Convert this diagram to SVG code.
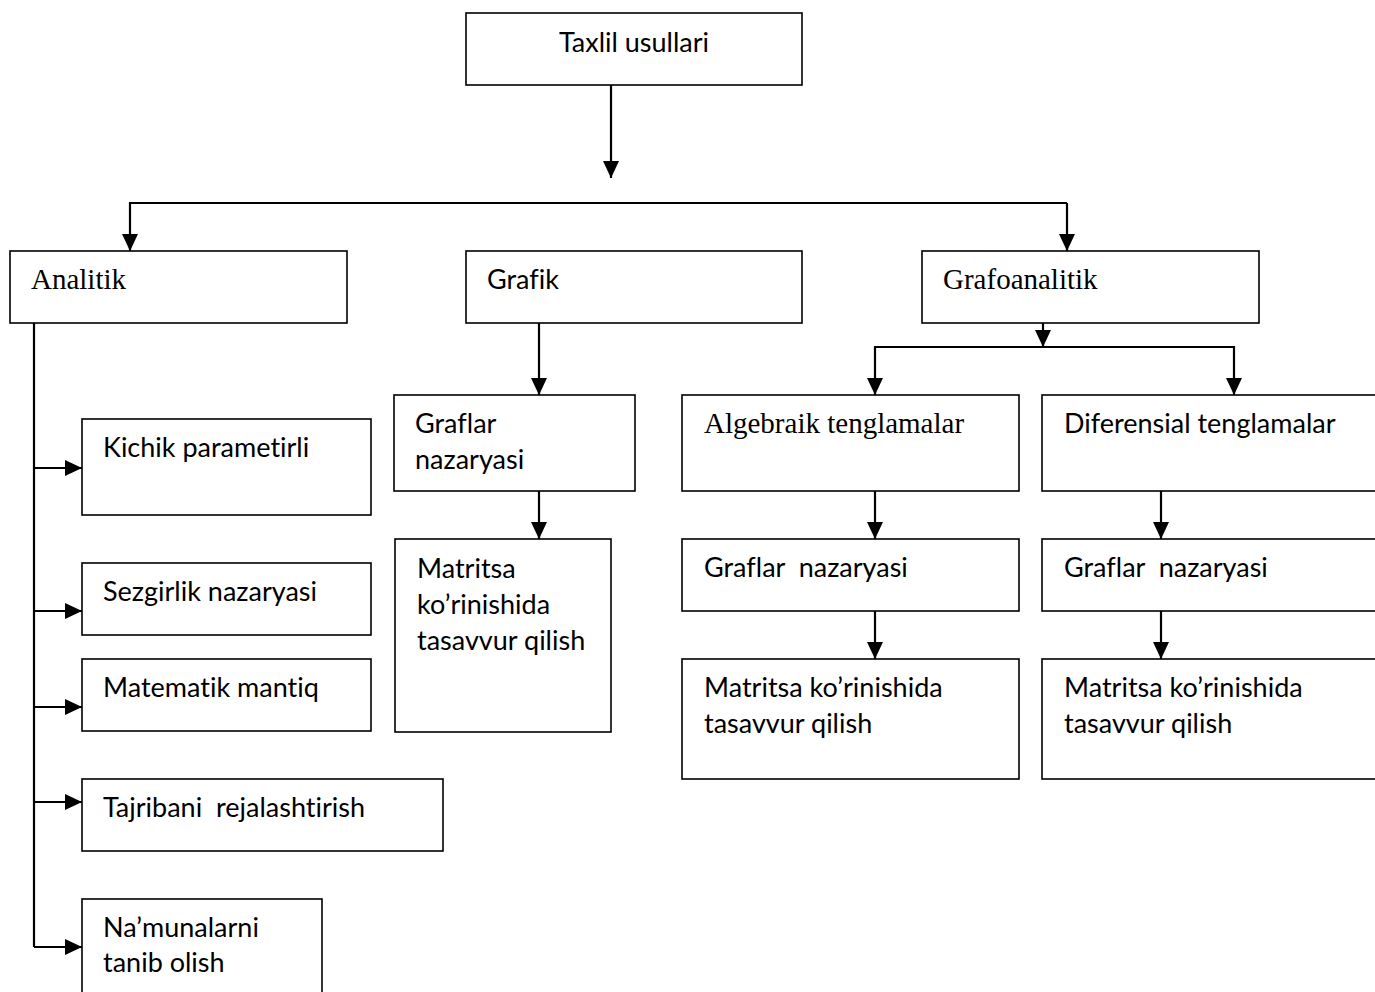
<svg xmlns="http://www.w3.org/2000/svg" width="1375" height="992" viewBox="0 0 1375 992">
  <style>
    .box { fill: #ffffff; stroke: #000000; stroke-width: 1.6; }
    .sans { font-family: Lato, "Liberation Sans", sans-serif; font-size: 27px; fill: #000000; white-space: pre; font-variant-ligatures: none; }
    .serif { font-family: "Liberation Serif", serif; font-size: 29px; fill: #000000; white-space: pre; }
    .wire { fill: none; stroke: #000000; stroke-width: 2.2; }
    .arrow { marker-end: url(#head); }
  </style>
  <defs>
    <marker id="head" viewBox="0 0 17 16" refX="17" refY="8" markerWidth="17" markerHeight="16" markerUnits="userSpaceOnUse" orient="auto">
      <path d="M0,0 L17,8 L0,16 z" fill="#000000"/>
    </marker>
  </defs>

  <rect width="1375" height="992" fill="#ffffff"/>

  <!-- connectors -->
  <g id="connectors">
    <path class="wire arrow" d="M611,82 V178"/>
    <path class="wire arrow" d="M1067,203 H130 V251"/>
    <path class="wire arrow" d="M1067,203 V251"/>
    <path class="wire arrow" d="M539,323 V395"/>
    <path class="wire arrow" d="M539,491 V539"/>
    <path class="wire arrow" d="M1043,323 V347"/>
    <path class="wire arrow" d="M1043,347 H875 V395"/>
    <path class="wire arrow" d="M1043,347 H1234 V395"/>
    <path class="wire arrow" d="M875,491 V539"/>
    <path class="wire arrow" d="M875,611 V659"/>
    <path class="wire arrow" d="M1161,491 V539"/>
    <path class="wire arrow" d="M1161,611 V659"/>
    <path class="wire" d="M34,323 V947"/>
    <path class="wire arrow" d="M34,468 H82"/>
    <path class="wire arrow" d="M34,611 H82"/>
    <path class="wire arrow" d="M34,707 H82"/>
    <path class="wire arrow" d="M34,802 H82"/>
    <path class="wire arrow" d="M34,947 H82"/>
  </g>

  <!-- root -->
  <g id="taxlil-usullari">
    <rect class="box" x="466" y="13" width="336" height="72"/>
    <text class="sans" x="634" y="52" text-anchor="middle">Taxlil usullari</text>
  </g>

  <!-- first level -->
  <g id="analitik">
    <rect class="box" x="10" y="251" width="337" height="72"/>
    <text class="serif" x="31" y="289">Analitik</text>
  </g>
  <g id="grafik">
    <rect class="box" x="466" y="251" width="336" height="72"/>
    <text class="sans" x="487" y="289">Grafik</text>
  </g>
  <g id="grafoanalitik">
    <rect class="box" x="922" y="251" width="337" height="72"/>
    <text class="serif" x="943" y="289">Grafoanalitik</text>
  </g>

  <!-- analitik branch -->
  <g id="kichik-parametirli">
    <rect class="box" x="82" y="419" width="289" height="96"/>
    <text class="sans" x="103" y="457">Kichik parametirli</text>
  </g>
  <g id="sezgirlik-nazaryasi">
    <rect class="box" x="82" y="563" width="289" height="72"/>
    <text class="sans" x="103" y="601">Sezgirlik nazaryasi</text>
  </g>
  <g id="matematik-mantiq">
    <rect class="box" x="82" y="659" width="289" height="72"/>
    <text class="sans" x="103" y="697">Matematik mantiq</text>
  </g>
  <g id="tajribani-rejalashtirish">
    <rect class="box" x="82" y="779" width="361" height="72"/>
    <text class="sans" x="103" y="817">Tajribani  rejalashtirish</text>
  </g>
  <g id="namunalarni-tanib-olish">
    <rect class="box" x="82" y="899" width="240" height="110"/>
    <text class="sans" x="103" y="937">Na’munalarni</text>
    <text class="sans" x="103" y="972">tanib olish</text>
  </g>

  <!-- grafik branch -->
  <g id="grafik-graflar">
    <rect class="box" x="394" y="395" width="241" height="96"/>
    <text class="sans" x="415" y="433">Graflar</text>
    <text class="sans" x="415" y="469">nazaryasi</text>
  </g>
  <g id="grafik-matritsa">
    <rect class="box" x="395" y="539" width="216" height="193"/>
    <text class="sans" x="417" y="578">Matritsa</text>
    <text class="sans" x="417" y="614">ko’rinishida</text>
    <text class="sans" x="417" y="650">tasavvur qilish</text>
  </g>

  <!-- grafoanalitik branch -->
  <g id="algebraik-tenglamalar">
    <rect class="box" x="682" y="395" width="337" height="96"/>
    <text class="serif" x="704" y="433">Algebraik tenglamalar</text>
  </g>
  <g id="algebraik-graflar">
    <rect class="box" x="682" y="539" width="337" height="72"/>
    <text class="sans" x="704" y="577">Graflar  nazaryasi</text>
  </g>
  <g id="algebraik-matritsa">
    <rect class="box" x="682" y="659" width="337" height="120"/>
    <text class="sans" x="704" y="697">Matritsa ko’rinishida</text>
    <text class="sans" x="704" y="733">tasavvur qilish</text>
  </g>
  <g id="diferensial-tenglamalar">
    <rect class="box" x="1042" y="395" width="340" height="96"/>
    <text class="sans" x="1064" y="433">Diferensial tenglamalar</text>
  </g>
  <g id="diferensial-graflar">
    <rect class="box" x="1042" y="539" width="340" height="72"/>
    <text class="sans" x="1064" y="577">Graflar  nazaryasi</text>
  </g>
  <g id="diferensial-matritsa">
    <rect class="box" x="1042" y="659" width="340" height="120"/>
    <text class="sans" x="1064" y="697">Matritsa ko’rinishida</text>
    <text class="sans" x="1064" y="733">tasavvur qilish</text>
  </g>
</svg>
